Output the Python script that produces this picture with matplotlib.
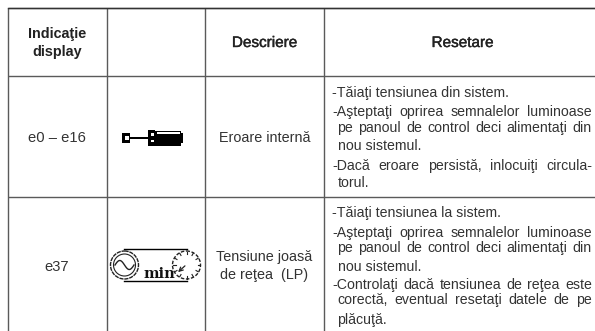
import numpy as np
import matplotlib
matplotlib.use("Agg")
import matplotlib.pyplot as plt
import matplotlib.patches as mpatches
import matplotlib.patheffects as pe

plt.rcParams["font.family"] = ["Liberation Sans", "DejaVu Sans"]

# ── Table content ─────────────────────────────────────────────────────────────
CODES = ["e0 – e16", "e37"]
DESCRIPTIONS = [["Eroare internă"], ["Tensiune joasă", "de reţea  (LP)"]]

# (text, stretch to full column width)
RESET_ROW1 = [
    ("-Tăiaţi tensiunea din sistem.", False),
    ("-Aşteptaţi oprirea semnalelor luminoase", True),
    ("pe panoul de control deci alimentaţi din", True),
    ("nou sistemul.", False),
    ("-Dacă eroare persistă, inlocuiţi circula-", True),
    ("torul.", False),
]
RESET_ROW2 = [
    ("-Tăiaţi tensiunea la sistem.", False),
    ("-Aşteptaţi oprirea semnalelor luminoase", True),
    ("pe panoul de control deci alimentaţi din", True),
    ("nou sistemul.", False),
    ("-Controlaţi dacă tensiunea de reţea este", True),
    ("corectă, eventual resetaţi datele de pe", True),
    ("plăcuţă.", False),
]
ROW1_Y = [93, 112, 128, 146, 166, 183]
ROW2_Y = [213, 233, 248, 267, 285, 300, 320]

# ── Grid geometry (pixels) ────────────────────────────────────────────────────
V_LINES = [8, 106.5, 204.5, 324]
H_LINES = [7.5, 76, 197]
GRID = "#5a5a5a"
INK = "#333333"
BODY = 10.2

fig = plt.figure(figsize=(5.95, 3.31), dpi=100)
ax = fig.add_axes([0, 0, 1, 1])
ax.set_xlim(0, 595)
ax.set_ylim(331, 0)
ax.axis("off")

for x in V_LINES:
    ax.plot([x, x], [H_LINES[0], 331], color=GRID, lw=1.0, solid_capstyle="butt")
for y in H_LINES:
    ax.plot([V_LINES[0], 595], [y, y], color=GRID, lw=1.0, solid_capstyle="butt")
ax.plot([V_LINES[0], 595], [H_LINES[0], H_LINES[0]], color="#333333", lw=1.0)


def put_line(text, y, left=332, right=592, stretch=False):
    """Writes one body line, spreading the words over the column if stretch."""
    indent = 0 if text.startswith("-") else 5.5
    if not stretch:
        ax.text(left + indent, y, text, fontsize=BODY, color=INK, va="center", ha="left")
        return
    words = text.split(" ")
    renderer = fig.canvas.get_renderer()
    items = [ax.text(0, y, w, fontsize=BODY, color=INK, va="center", ha="left") for w in words]
    widths = [t.get_window_extent(renderer).width for t in items]
    gap = (right - left - indent - sum(widths)) / (len(words) - 1)
    x = left + indent
    for t, w in zip(items, widths):
        t.set_x(x)
        x += w + gap


# Header
hdr = dict(color="#222222", ha="center", va="center")
ax.text(57.5, 34, "Indicaţie", fontsize=10.4, fontweight="bold", **hdr)
ax.text(57.5, 52, "display", fontsize=10.4, fontweight="bold", **hdr)
soft_bold = [pe.withStroke(linewidth=0.3, foreground="#222222")]
ax.text(264.5, 43, "Descriere", fontsize=11, path_effects=soft_bold, **hdr)
ax.text(462.5, 43, "Resetare", fontsize=11, path_effects=soft_bold, **hdr)

# Code and description columns
ax.text(57, 138, CODES[0], fontsize=10.6, color=INK, ha="center", va="center")
ax.text(57, 267, CODES[1], fontsize=10.6, color=INK, ha="center", va="center")
ax.text(264.5, 138, DESCRIPTIONS[0][0], fontsize=10.4, color=INK, ha="center", va="center")
ax.text(264.5, 257, DESCRIPTIONS[1][0], fontsize=10.4, color=INK, ha="center", va="center")
ax.text(264.5, 275, DESCRIPTIONS[1][1], fontsize=10.4, color=INK, ha="center", va="center")

# Reset column
fig.canvas.draw()
for (line, stretch), y in zip(RESET_ROW1, ROW1_Y):
    put_line(line, y, stretch=stretch)
for (line, stretch), y in zip(RESET_ROW2, ROW2_Y):
    put_line(line, y, stretch=stretch)

# ── Screwdriver icon ──────────────────────────────────────────────────────────
black = dict(facecolor="black", edgecolor="none")
white = dict(facecolor="white", edgecolor="none")
ax.add_patch(mpatches.Rectangle((122, 133), 8, 10, **black))
ax.add_patch(mpatches.Rectangle((125, 136), 3.5, 3.5, **white))
ax.add_patch(mpatches.Rectangle((130, 136.8), 18, 2, **black))
ax.add_patch(mpatches.Rectangle((148, 130), 7, 16, **black))
ax.add_patch(mpatches.Rectangle((155, 130.5), 26, 15, **black))
ax.add_patch(mpatches.Rectangle((181, 133), 2, 10, **black))
ax.add_patch(mpatches.Rectangle((151, 133), 3, 2.5, **white))
ax.add_patch(mpatches.Rectangle((151, 139.5), 3, 2.5, **white))
ax.add_patch(mpatches.Rectangle((157, 132), 23, 1.5, **white))

# ── Low voltage icon ──────────────────────────────────────────────────────────
ax.plot([124, 187], [248.5, 248.5], color="black", lw=1.0)
ax.plot([124, 187], [281, 281], color="black", lw=1.0)
ax.add_patch(mpatches.Circle((124.5, 265), 14, fc="white", ec="#222222", lw=1.0, ls=(0, (3, 0.6))))
ax.add_patch(mpatches.Circle((186.5, 265), 14, fc="white", ec="#222222", lw=1.0, ls=(0, (2.5, 1.2))))
ax.add_patch(mpatches.Circle((124.5, 265), 11, fc="none", ec="#222222", lw=0.8))
wave_x = np.linspace(115, 134, 40)
ax.plot(wave_x, 265 - 4.5 * np.sin((wave_x - 115) / 19 * 2 * np.pi), color="#222222", lw=1.0)
for a in np.arange(0, 360, 30):
    ca, sa = np.cos(np.radians(a)), np.sin(np.radians(a))
    ax.plot([186.5 + 11 * ca, 186.5 + 13.5 * ca], [265 + 11 * sa, 265 + 13.5 * sa], color="#222222", lw=0.8)
ax.annotate("", xy=(176, 274), xytext=(187, 264), arrowprops=dict(arrowstyle="->", color="#222222", lw=0.9, mutation_scale=7))
ax.text(159.5, 273.5, "min", fontsize=10.5, fontfamily="DejaVu Serif", fontweight="bold", color="#111111",
        ha="center", va="center")

fig.savefig("out.png", dpi=100)
